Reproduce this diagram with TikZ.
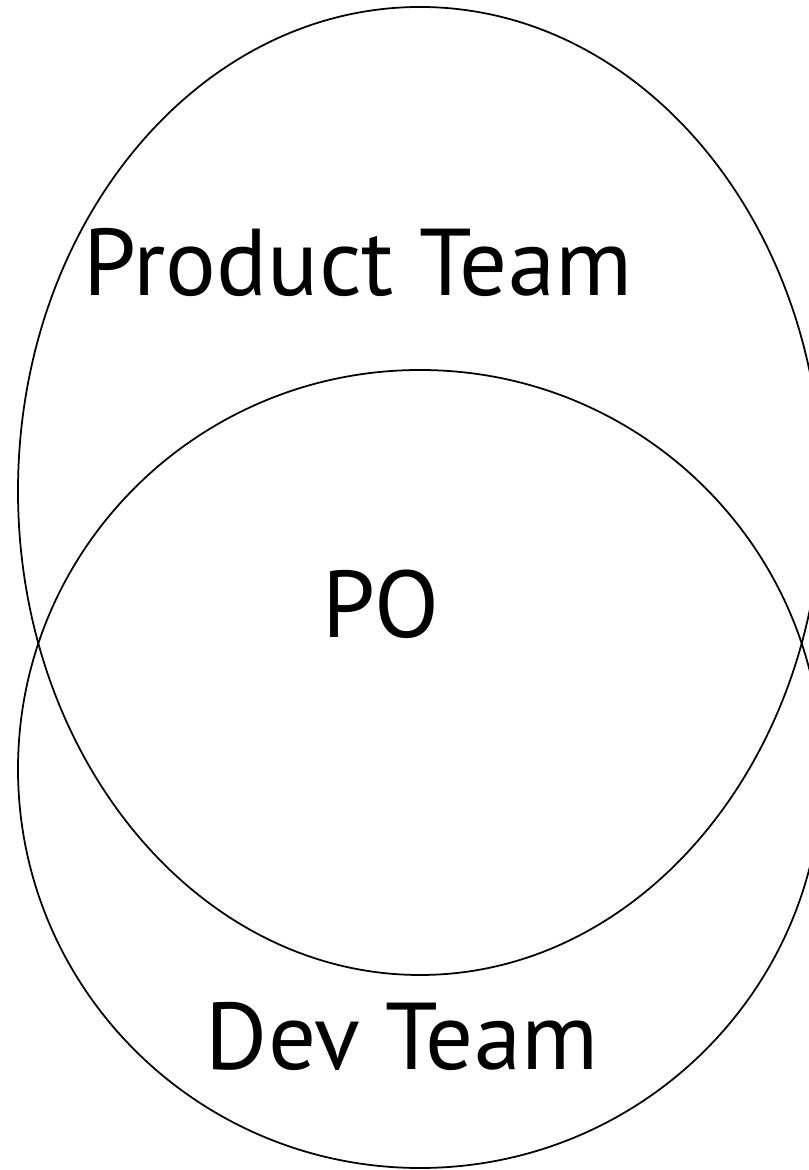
\documentclass[tikz,border=0pt]{standalone}
\usepackage{fontspec}
\setmainfont{PT Sans}
\usetikzlibrary{shapes.geometric}

\begin{document}
\begin{tikzpicture}[line width=.5pt]
	\useasboundingbox (0,0) rectangle (8.08,11.7);
	\node [ellipse,draw=black,minimum width=8.04cm,minimum height=9.68cm,inner sep=0pt,outer sep=0pt] at (4.20,6.79) (product_team) {};
	\node [ellipse,draw=black,minimum width=8.04cm,minimum height=7.98cm,inner sep=0pt,outer sep=0pt] at (4.20,4.01) (dev_team) {};

	\node [anchor=base,inner sep=0pt,font=\fontsize{27}{28}\selectfont] at (3.58,8.74) (product_team_txt) {Product Team};
	\node [anchor=base,inner sep=0pt,font=\fontsize{27}{28}\selectfont] at (3.81,5.32) (po_txt) {PO};
	\node [anchor=base,inner sep=0pt,font=\fontsize{27}{28}\selectfont] at (4.02,1.00) (dev_team_txt) {Dev Team};
\end{tikzpicture}
\end{document}
